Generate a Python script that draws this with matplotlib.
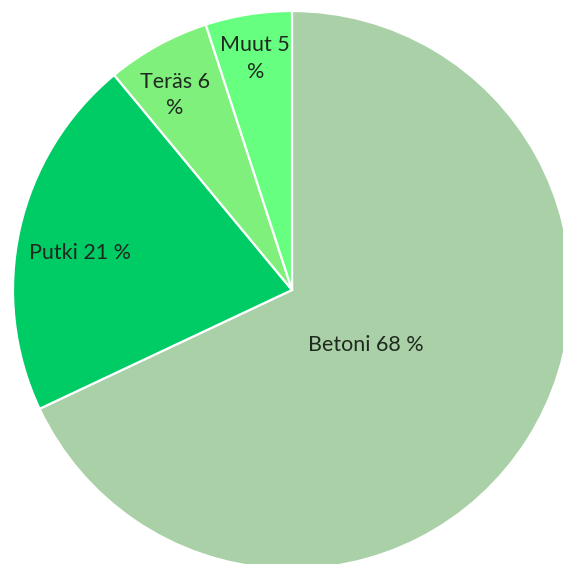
import numpy as np
import matplotlib
matplotlib.use("Agg")
import matplotlib.pyplot as plt

# Material shares of the structure
materials = ["Betoni", "Putki", "Teräs", "Muut"]
shares = [68, 21, 6, 5]
label_texts = ["Betoni 68 %", "Putki 21 %", "Teräs 6\n%", "Muut 5\n%"]
colors = ["#a9d0a6", "#00cc66", "#80f07c", "#66ff80"]

# label placement: fraction of radius and angular nudge (degrees) from the wedge middle
label_radius = [0.33, 0.77, 0.815, 0.84]
label_nudge = [-4.2, 2.7, 2.2, 0.0]

W, H = 563, 564
fig = plt.figure(figsize=(W / 100, H / 100), dpi=100)
ax = fig.add_axes([0, 0, 1, 1])

cx, cy, r = 292, H - 290, 279
wedges, _ = ax.pie(
    shares,
    colors=colors,
    startangle=90,
    counterclock=False,
    center=(cx, cy),
    radius=r,
    frame=True,
    wedgeprops=dict(edgecolor="white", linewidth=1.6),
)
ax.set_xlim(0, W)
ax.set_ylim(0, H)
ax.set_aspect("equal")
ax.axis("off")

for w, txt, fr, nd in zip(wedges, label_texts, label_radius, label_nudge):
    mid = np.deg2rad((w.theta1 + w.theta2) / 2 + nd)
    x = cx + fr * r * np.cos(mid)
    y = cy + fr * r * np.sin(mid)
    ax.text(x, y, txt, ha="center", va="center", fontsize=15.5,
            family="Lato", color="#1f2a1f", linespacing=1.4)

fig.savefig("out.png", dpi=100)
